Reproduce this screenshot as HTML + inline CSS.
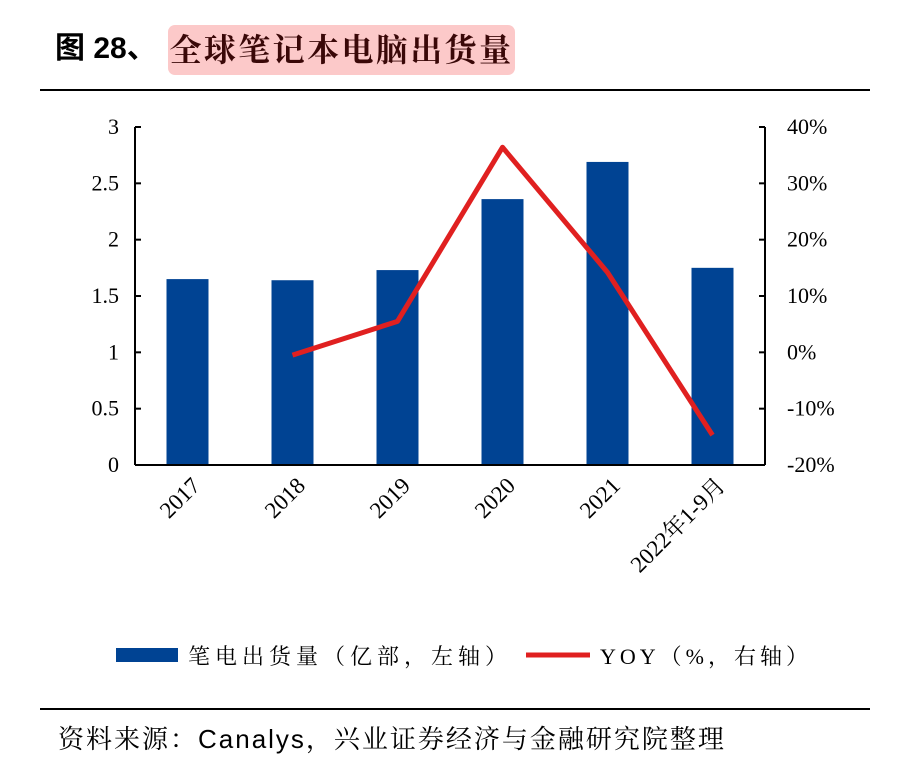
<!DOCTYPE html>
<html><head><meta charset="utf-8">
<style>
body{margin:0;background:#fff;width:908px;height:779px;overflow:hidden;font-family:"Liberation Serif","Noto Serif CJK SC",serif;}
.title{position:absolute;left:55px;top:22px;font-family:"Liberation Sans","Noto Sans CJK SC",sans-serif;font-weight:bold;font-size:30px;color:#000;line-height:54px;}
.hl{position:absolute;left:113px;top:3px;width:347px;height:50px;background:#fcc9c9;border-radius:7px;font-family:"Liberation Serif","Noto Serif CJK SC",serif;color:#3a0808;font-size:32px;letter-spacing:2.4px;text-align:center;line-height:50px;white-space:nowrap;font-weight:bold;}
.rule{position:absolute;left:40px;width:830px;height:1.5px;background:#000;}
.src{position:absolute;left:58px;top:719px;font-size:26px;letter-spacing:2px;white-space:nowrap;font-family:"Liberation Sans","Noto Serif CJK SC",sans-serif;color:#000;}
</style></head><body>
<div class="title">图 28、<span class="hl">全球笔记本电脑出货量</span></div>
<div class="rule" style="top:89px"></div>
<svg id="c" width="908" height="779" style="position:absolute;left:0;top:0"></svg>
<div class="rule" style="top:708px"></div>
<div class="src">资料来源：Canalys，兴业证券经济与金融研究院整理</div>
<script>
const categories=["2017","2018","2019","2020","2021","2022年1-9月"];
const shipments=[1.65,1.64,1.73,2.36,2.69,1.75];
const yoy=[null,-0.5,5.5,36.4,14.2,-14.7];
const leftTicks=[0,0.5,1,1.5,2,2.5,3];
const rightTicks=[-20,-10,0,10,20,30,40];
const svg=document.getElementById('c');
const NS='http://www.w3.org/2000/svg';
const X0=135,X1=765,Y0=465,Y1=127;
const yL=v=>Y0-(v/3)*(Y0-Y1);
const yR=v=>Y0-((v+20)/60)*(Y0-Y1);
const bw=(X1-X0)/categories.length;
const xC=i=>X0+bw*(i+0.5);
function el(t,a,txt){const e=document.createElementNS(NS,t);for(const k in a)e.setAttribute(k,a[k]);if(txt!=null)e.textContent=txt;svg.appendChild(e);return e;}
shipments.forEach((v,i)=>{
 const r=el('rect',{x:xC(i)-21,y:yL(v),width:42,height:Y0-yL(v),fill:'#004393'});
 
 
});
let a=el('line',{x1:X0,y1:Y1,x2:X0,y2:Y0,stroke:'#000','stroke-width':2});

a=el('line',{x1:X1,y1:Y1,x2:X1,y2:Y0,stroke:'#000','stroke-width':2});

a=el('line',{x1:X0,y1:Y0,x2:X1,y2:Y0,stroke:'#000','stroke-width':2});

leftTicks.forEach(v=>{
 el('line',{x1:X0,y1:yL(v),x2:X0+6,y2:yL(v),stroke:'#000','stroke-width':2});
 const t=el('text',{x:X0-16,y:yL(v)+7,'text-anchor':'end','font-size':22},String(v));
 
});
rightTicks.forEach(v=>{
 el('line',{x1:X1-6,y1:yR(v),x2:X1,y2:yR(v),stroke:'#000','stroke-width':2});
 const t=el('text',{x:X1+22,y:yR(v)+7,'font-size':22},v+'%');
 
});
categories.forEach((c,i)=>{
 const x=xC(i)+14,y=Y0+22;
 const t=el('text',{x:x,y:y,'text-anchor':'end','font-size':23,transform:`rotate(-45 ${x} ${y})`},c);
 
});
let pts=[];yoy.forEach((v,i)=>{if(v!=null)pts.push(xC(i)+','+yR(v));});
const ln=el('polyline',{points:pts.join(' '),fill:'none',stroke:'#e02020','stroke-width':5,'stroke-linejoin':'round'});

let lg=el('rect',{x:116,y:648,width:62,height:14,fill:'#004393'});

lg=el('text',{x:188,y:664,'font-size':22,'letter-spacing':5},'笔电出货量（亿部，左轴）');

lg=el('line',{x1:526,y1:655,x2:590,y2:655,stroke:'#e02020','stroke-width':5});

lg=el('text',{x:600,y:664,'font-size':22,'letter-spacing':4},'YOY（%，右轴）');

</script>
</body></html>
